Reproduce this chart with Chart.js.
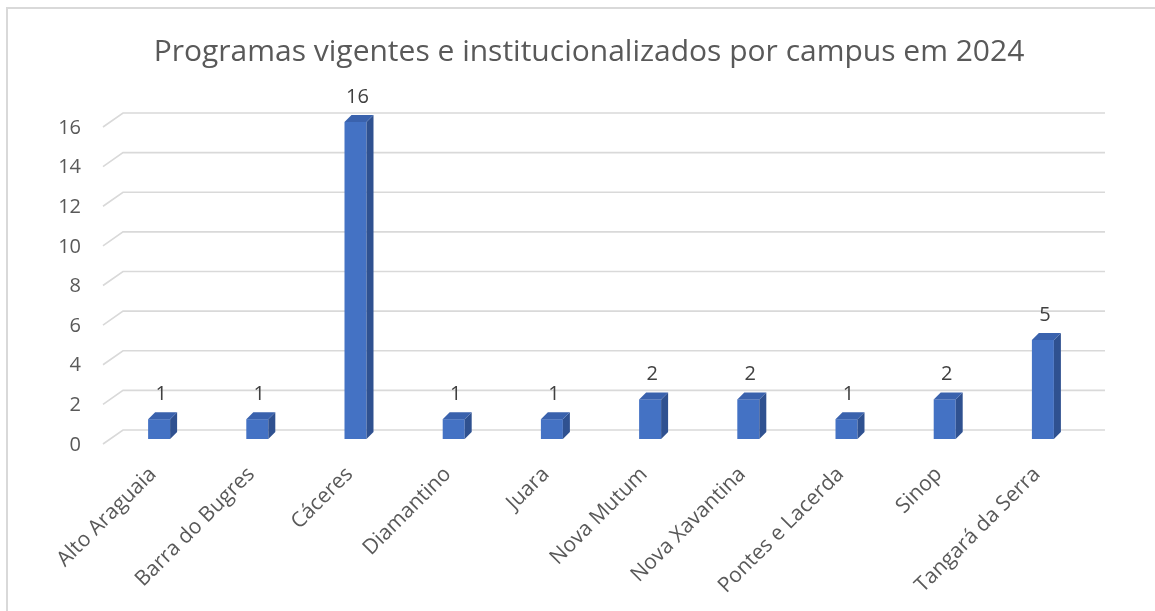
<!DOCTYPE html>
<html>
<head>
<meta charset="utf-8">
<script src="https://cdn.jsdelivr.net/npm/chart.js"></script>
<style>
    html, body { margin: 0; padding: 0; background: #fff; overflow: hidden; }
    #wrap { position: relative; width: 1155px; height: 611px; }
    #frame { position: absolute; left: 6px; top: 7px; width: 1200px; height: 700px; border: 2px solid #d9d9d9; }
    #chart { position: absolute; left: 0; top: 0; }
</style>
</head>
<body>
<div id="wrap">
    <div id="frame"></div>
    <canvas id="chart" width="1155" height="611"></canvas>
</div>
<script>
// data
const campus = ['Alto Araguaia', 'Barra do Bugres', 'Cáceres', 'Diamantino', 'Juara',
    'Nova Mutum', 'Nova Xavantina', 'Pontes e Lacerda', 'Sinop', 'Tangará da Serra'];
const programas = [1, 1, 16, 1, 1, 2, 2, 1, 2, 5];
const yTickValues = [0, 2, 4, 6, 8, 10, 12, 14, 16];
const titulo = 'Programas vigentes e institucionalizados por campus em 2024';

const FONT = '"Open Sans", "Noto Sans", sans-serif';
const DEPTH = 7;       // bar depth (px)
const WALL_X = 13;     // back wall offset from bar front
const WALL_Y = 9;

// fake excel 3d look: slanted gridlines, side and top faces on bars, value labels
// title is drawn here too, the built-in one centres on the padded box and sits too far left
const bar3d = {
    id: 'bar3d',
    beforeDatasetsDraw(chart) {
        const ctx = chart.ctx;
        const area = chart.chartArea;
        const y = chart.scales.y;
        ctx.save();
        ctx.strokeStyle = '#d9d9d9';
        ctx.lineWidth = 1.6;
        y.ticks.forEach(t => {
            const py = y.getPixelForValue(t.value) - WALL_Y;
            ctx.beginPath();
            ctx.moveTo(area.left - 7, py + 14);
            ctx.lineTo(area.left + WALL_X, py);
            ctx.lineTo(area.right + WALL_X, py);
            ctx.stroke();
        });
        ctx.restore();
    },
    afterDatasetsDraw(chart) {
        const ctx = chart.ctx;
        const meta = chart.getDatasetMeta(0);
        ctx.save();
        meta.data.forEach((bar, i) => {
            const left = bar.x - bar.width / 2;
            const right = bar.x + bar.width / 2;
            // side face
            ctx.fillStyle = '#2f5190';
            ctx.beginPath();
            ctx.moveTo(right, bar.y);
            ctx.lineTo(right + DEPTH, bar.y - DEPTH);
            ctx.lineTo(right + DEPTH, bar.base - DEPTH);
            ctx.lineTo(right, bar.base);
            ctx.closePath();
            ctx.fill();
            // top face
            ctx.fillStyle = '#3a62ad';
            ctx.beginPath();
            ctx.moveTo(left, bar.y);
            ctx.lineTo(left + DEPTH, bar.y - DEPTH);
            ctx.lineTo(right + DEPTH, bar.y - DEPTH);
            ctx.lineTo(right, bar.y);
            ctx.closePath();
            ctx.fill();
            // value
            ctx.fillStyle = '#404040';
            ctx.font = '20px ' + FONT;
            ctx.textAlign = 'center';
            ctx.textBaseline = 'middle';
            ctx.fillText(programas[i], bar.x + 2, bar.y - 25);
        });
        ctx.restore();
    },
    afterDraw(chart) {
        const ctx = chart.ctx;
        ctx.save();
        ctx.fillStyle = '#595959';
        ctx.font = '30px ' + FONT;
        ctx.textAlign = 'center';
        ctx.textBaseline = 'alphabetic';
        ctx.fillText(titulo, 589, 61);
        ctx.restore();
    }
};

new Chart(document.getElementById('chart'), {
    type: 'bar',
    data: {
        labels: campus,
        datasets: [{
            data: programas,
            backgroundColor: '#4472c4',
            borderWidth: 0,
            categoryPercentage: 1,
            barPercentage: 0.224
        }]
    },
    options: {
        responsive: false,
        animation: false,
        devicePixelRatio: 1,
        layout: { padding: { left: 40, right: 63, top: 122, bottom: 0 } },
        plugins: {
            legend: { display: false },
            tooltip: { enabled: false },
            title: { display: false }
        },
        scales: {
            x: {
                grid: { display: false, drawTicks: false },
                border: { display: false },
                ticks: {
                    color: '#595959',
                    font: { family: FONT, size: 21 },
                    minRotation: 45,
                    maxRotation: 45,
                    padding: 23,
                    labelOffset: -6
                },
                afterFit: s => { s.height = 172; }
            },
            y: {
                min: 0,
                max: 16,
                grid: { display: false, drawTicks: false },
                border: { display: false },
                afterBuildTicks: s => { s.ticks = yTickValues.map(v => ({ value: v })); },
                ticks: {
                    color: '#595959',
                    font: { family: FONT, size: 20 },
                    padding: 29,
                    labelOffset: 6
                },
                afterFit: s => { s.width = 70; }
            }
        }
    },
    plugins: [bar3d]
});
</script>
</body>
</html>
